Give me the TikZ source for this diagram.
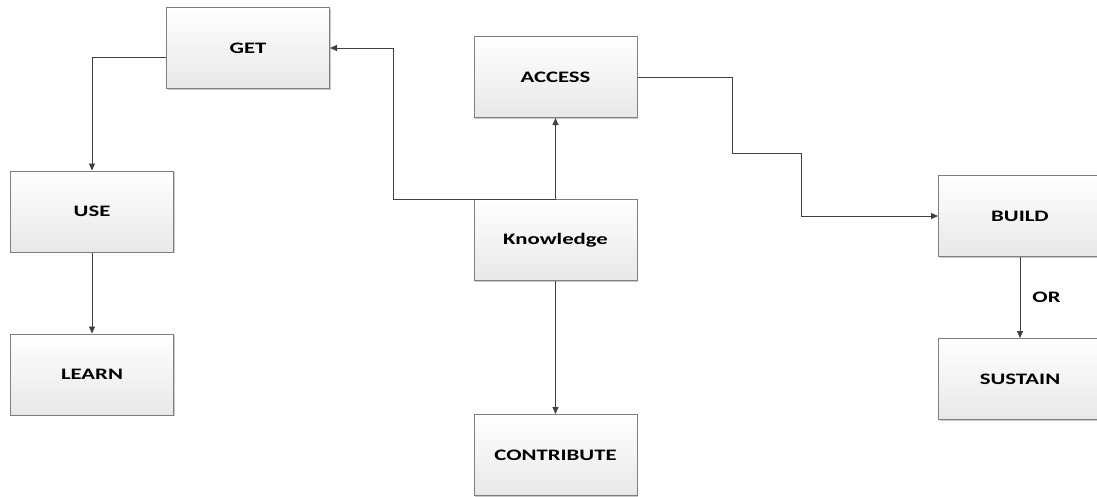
\documentclass[tikz,border=0pt]{standalone}
\usepackage{fontspec}
\setmainfont{Carlito}
\usetikzlibrary{arrows.meta,shadows}
\definecolor{edgegray}{HTML}{7F7F7F}
\definecolor{linegray}{HTML}{404040}
\newcommand{\boxlabel}[1]{\scalebox{1.42}[1]{\bfseries #1}}
\tikzset{
  block/.style={draw=edgegray, line width=1pt, rectangle,
    minimum width=163pt, minimum height=81pt,
    top color=white, bottom color=black!9,
    drop shadow={shadow xshift=1.2pt, shadow yshift=-1.2pt, fill=black!35, opacity=0.6},
    font=\fontsize{16}{18}\selectfont, inner sep=0pt},
  conn/.style={draw=linegray, line width=0.95pt,
    -{Triangle[length=7pt,width=6pt]}},
  lbl/.style={font=\fontsize{16}{18}\selectfont, inner sep=0pt}
}
\begin{document}
\begin{tikzpicture}[x=1pt,y=-1pt]
  \clip (0,0) rectangle (1097,496);
  \fill[white] (0,0) rectangle (1097,496);

  % boxes
  \node[block] (get)     at (248,48)    {\boxlabel{GET}};
  \node[block] (access)  at (555.5,77)  {\boxlabel{ACCESS}};
  \node[block] (know)    at (555.5,240) {\boxlabel{Knowledge}};
  \node[block] (use)     at (92,211.5)  {\boxlabel{USE}};
  \node[block] (learn)   at (92,374.5)  {\boxlabel{LEARN}};
  \node[block] (build)   at (1020,216)  {\boxlabel{BUILD}};
  \node[block] (sustain) at (1020,379)  {\boxlabel{SUSTAIN}};
  \node[block] (contrib) at (555.5,455) {\boxlabel{CONTRIBUTE}};

  % bend points of the elbow connectors
  \coordinate (kgleft) at (393,48);
  \coordinate (ab1) at (732,153);
  \coordinate (ab2) at (801,216);

  % connectors
  \draw[conn] (know.north) -| (kgleft) -- (get.east);
  \draw[conn] (know.north) -- (access.south);
  \draw[conn] (know.south) -- (contrib.north);
  \draw[conn] ([yshift=-9pt]get.west) -| (use.north);
  \draw[conn] (use.south) -- (learn.north);
  \draw[conn] (access.east) -| (ab1) -| (ab2) -- (build.west);
  \draw[conn] (build.south) -- (sustain.north)
    node[lbl, pos=0.5, right=12pt] (orlbl) {\boxlabel{OR}};
\end{tikzpicture}
\end{document}
